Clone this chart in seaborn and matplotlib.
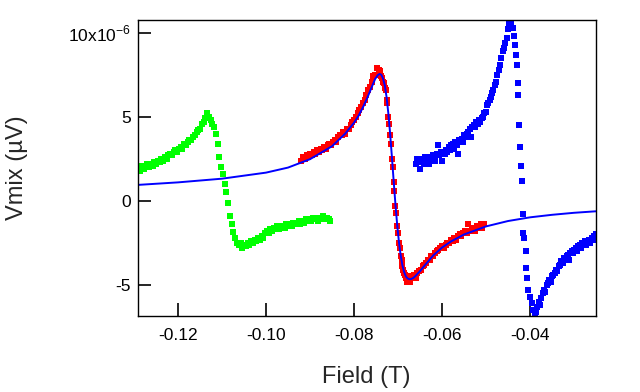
import matplotlib
matplotlib.use("Agg")
import matplotlib.pyplot as plt
import seaborn as sns
import pandas as pd

# ---------------- data (y in units of 1e-6) ----------------
green_x = [-0.1294, -0.1290, -0.1286, -0.1282, -0.1278, -0.1274, -0.1270, -0.1266, -0.1262, -0.1258,
           -0.1254, -0.1250, -0.1246, -0.1242, -0.1238, -0.1234, -0.1230, -0.1226, -0.1222, -0.1218,
           -0.1214, -0.1210, -0.1206, -0.1202, -0.1198, -0.1194, -0.1190, -0.1186, -0.1182, -0.1178,
           -0.1174, -0.1170, -0.1166, -0.1162, -0.1158, -0.1154, -0.1150, -0.1146, -0.1142, -0.1138,
           -0.1134, -0.1130, -0.1126, -0.1122, -0.1118, -0.1114, -0.1110, -0.1106, -0.1102, -0.1098,
           -0.1094, -0.1090, -0.1086, -0.1082, -0.1078, -0.1074, -0.1070, -0.1066, -0.1062, -0.1058,
           -0.1054, -0.1050, -0.1046, -0.1042, -0.1038, -0.1034, -0.1030, -0.1026, -0.1022, -0.1018,
           -0.1014, -0.1010, -0.1006, -0.1002, -0.0998, -0.0994, -0.0990, -0.0986, -0.0982, -0.0978,
           -0.0974, -0.0970, -0.0966, -0.0962, -0.0958, -0.0954, -0.0950, -0.0946, -0.0942, -0.0938,
           -0.0934, -0.0930, -0.0926, -0.0922, -0.0918, -0.0914, -0.0910, -0.0906, -0.0902, -0.0898,
           -0.0894, -0.0890, -0.0886, -0.0882, -0.0878, -0.0874, -0.0870, -0.0866, -0.0862, -0.0858,
           -0.0854]
green_y = [1.8, 2.0, 1.8, 2.1, 1.9, 2.0, 2.2, 2.0, 2.2, 2.1,
           2.3, 2.2, 2.4, 2.3, 2.5, 2.4, 2.6, 2.5, 2.7, 2.8,
           2.7, 2.9, 3.0, 2.9, 3.1, 3.2, 3.1, 3.4, 3.3, 3.5,
           3.6, 3.6, 3.8, 3.9, 4.1, 4.2, 4.3, 4.6, 4.7, 4.9,
           5.2, 5.0, 4.8, 4.6, 4.4, 4.0, 3.4, 2.6, 2.0, 1.6,
           1.0, 0.5, -0.1, -0.9, -1.35, -1.85, -2.2, -2.5, -2.6, -2.5,
           -2.8, -2.6, -2.7, -2.5, -2.6, -2.4, -2.5, -2.3, -2.4, -2.2,
           -2.3, -2.1, -2.2, -1.9, -1.8, -1.9, -1.7, -1.8, -1.6, -1.7,
           -1.5, -1.7, -1.6, -1.5, -1.6, -1.4, -1.5, -1.4, -1.5, -1.3,
           -1.4, -1.3, -1.2, -1.4, -1.2, -1.3, -1.1, -1.2, -1.1, -1.2,
           -1.0, -1.1, -1.0, -1.2, -1.0, -1.1, -0.9, -1.1, -1.0, -1.1,
           -1.2]

red_x = [-0.0920, -0.0916, -0.0912, -0.0908, -0.0904, -0.0900, -0.0896, -0.0892, -0.0888, -0.0884,
         -0.0880, -0.0876, -0.0872, -0.0868, -0.0864, -0.0860, -0.0856, -0.0852, -0.0848, -0.0844,
         -0.0840, -0.0836, -0.0832, -0.0828, -0.0824, -0.0820, -0.0816, -0.0812, -0.0808, -0.0804,
         -0.0800, -0.0796, -0.0792, -0.0788, -0.0784, -0.0780, -0.0776, -0.0772, -0.0768, -0.0764,
         -0.0760, -0.0756, -0.0752, -0.0748, -0.0744,
         -0.0740, -0.0738, -0.0736, -0.0734, -0.0732, -0.0730, -0.0728, -0.0726, -0.0724, -0.0722,
         -0.0720, -0.0718, -0.0716, -0.0714, -0.0712, -0.0710, -0.0708, -0.0706, -0.0704, -0.0702,
         -0.0700, -0.0698, -0.0696, -0.0694, -0.0692, -0.0690, -0.0688, -0.0686, -0.0684, -0.0682,
         -0.0680, -0.0676, -0.0672, -0.0668, -0.0664, -0.0660, -0.0656, -0.0652, -0.0648, -0.0644,
         -0.0640, -0.0636, -0.0632, -0.0628, -0.0624, -0.0620, -0.0616, -0.0612, -0.0608, -0.0604,
         -0.0600, -0.0596, -0.0592, -0.0588, -0.0584, -0.0580, -0.0576, -0.0572, -0.0568, -0.0564,
         -0.0560, -0.0556, -0.0552, -0.0548, -0.0544, -0.0540, -0.0536, -0.0532, -0.0528, -0.0524,
         -0.0520, -0.0516, -0.0512, -0.0508, -0.0504]
red_y = [2.4, 2.6, 2.5, 2.7, 2.6, 2.8, 2.7, 2.9, 2.8, 3.0,
         2.9, 3.1, 3.0, 3.2, 3.1, 3.3, 3.4, 3.3, 3.5, 3.6,
         3.5, 3.8, 3.9, 3.9, 4.1, 4.0, 4.3, 4.3, 4.5, 4.7,
         4.8, 5.0, 5.2, 5.4, 5.6, 5.8, 6.0, 6.3, 6.6, 6.8,
         7.1, 7.4, 7.5, 7.9, 7.8,
         7.7, 7.4, 7.3, 7.1, 7.0, 6.7, 6.6, 6.0, 5.8, 5.0,
         4.6, 3.9, 3.4, 2.5, 2.0, 1.1, 0.6, -0.3, -0.7, -1.5,
         -1.9, -2.5, -2.8, -3.3, -3.5, -3.9, -4.1, -4.3, -4.4, -4.6,
         -4.8, -4.5, -4.8, -4.6, -4.4, -4.6, -4.3, -4.2, -4.1, -3.9,
         -3.8, -3.7, -3.5, -3.5, -3.3, -3.3, -3.1, -3.0, -2.9, -2.8,
         -2.7, -2.8, -2.6, -2.5, -2.5, -2.3, -2.4, -2.2, -2.3, -2.1,
         -2.0, -2.1, -1.9, -1.8, -1.9, -1.4, -1.8, -1.7, -1.6, -1.8,
         -1.5, -1.6, -1.4, -1.6, -1.4]

blue_x = [-0.0660, -0.0657, -0.0654, -0.0651, -0.0648, -0.0645, -0.0642, -0.0639, -0.0636, -0.0633,
          -0.0630, -0.0627, -0.0624, -0.0621, -0.0618, -0.0615, -0.0612, -0.0609, -0.0606, -0.0603,
          -0.0600, -0.0597, -0.0594, -0.0591, -0.0588, -0.0585, -0.0582, -0.0579, -0.0576, -0.0573,
          -0.0570, -0.0567, -0.0564, -0.0561, -0.0558, -0.0555, -0.0552, -0.0549, -0.0546, -0.0543,
          -0.0540, -0.0537, -0.0534, -0.0531, -0.0528, -0.0525, -0.0522, -0.0519, -0.0516, -0.0513,
          -0.0510, -0.0507, -0.0504, -0.0501, -0.0498, -0.0495, -0.0492, -0.0489, -0.0486, -0.0483,
          -0.0480, -0.0477, -0.0474, -0.0471, -0.0468, -0.0465, -0.0462, -0.0459, -0.0456, -0.0453,
          -0.0450, -0.0448, -0.0446, -0.0444,
          -0.0438, -0.0436, -0.0433, -0.0432, -0.0430, -0.0428, -0.0427, -0.0425, -0.0423, -0.0421,
          -0.0418, -0.0417, -0.0415, -0.0413, -0.0410, -0.0409, -0.0406, -0.0404, -0.0400, -0.0396,
          -0.0393, -0.0389,
          -0.0386, -0.0383, -0.0380, -0.0377, -0.0374, -0.0371, -0.0368, -0.0365, -0.0362, -0.0359,
          -0.0356, -0.0353, -0.0350, -0.0347, -0.0344, -0.0341, -0.0338, -0.0335, -0.0332, -0.0329,
          -0.0326, -0.0323, -0.0320, -0.0317, -0.0314, -0.0311, -0.0308, -0.0305, -0.0302, -0.0299,
          -0.0296, -0.0293, -0.0290, -0.0287, -0.0284, -0.0281, -0.0278, -0.0275, -0.0272, -0.0269,
          -0.0266, -0.0263, -0.0260, -0.0257, -0.0254, -0.0251]
blue_y = [2.2, 2.5, 2.3, 1.9, 2.5, 2.3, 2.2, 2.6, 2.4, 2.5,
          2.2, 2.6, 2.5, 2.7, 2.5, 2.4, 2.8, 3.3, 2.7, 2.9,
          2.4, 2.9, 2.8, 3.0, 2.9, 3.2, 3.0, 3.3, 3.4, 3.1,
          3.5, 3.3, 2.8, 3.6, 3.5, 3.7, 3.5, 3.9, 3.8, 4.0,
          4.1, 4.3, 3.8, 4.4, 4.5, 4.4, 4.7, 4.6, 4.8, 4.7,
          4.9, 5.0, 5.2, 5.3, 5.7, 5.8, 6.0, 6.2, 6.4, 6.6,
          6.9, 7.1, 7.5, 7.8, 8.1, 8.5, 8.9, 9.1, 9.4, 9.7,
          10.2, 10.5, 10.75, 10.5,
          10.3, 9.8, 9.3, 8.7, 8.1, 7.0, 6.3, 4.5, 3.2, 2.1,
          1.2, -0.8, -1.9, -2.2, -3.0, -4.0, -4.6, -5.3, -5.7, -6.1,
          -6.5, -6.8,
          -6.6, -6.3, -6.0, -6.2, -5.8, -5.5, -5.3, -5.4, -5.0, -4.9,
          -4.7, -4.8, -4.5, -4.4, -4.3, -4.1, -4.2, -3.9, -3.8, -3.6,
          -3.7, -3.4, -3.5, -3.3, -3.2, -3.5, -3.1, -3.0, -3.1, -2.9,
          -2.8, -3.0, -2.7, -2.6, -2.8, -2.5, -2.6, -2.4, -2.6, -2.4,
          -2.3, -2.5, -2.2, -2.3, -2.1, -2.0]

fit_x = [-0.1291, -0.1200, -0.1100, -0.1000, -0.0950, -0.0900, -0.0850, -0.0820, -0.0800, -0.0790,
         -0.0780, -0.0770, -0.0760, -0.0752, -0.0746, -0.0742, -0.0738, -0.0734, -0.0730, -0.0726,
         -0.0722, -0.0718, -0.0714, -0.0710, -0.0706, -0.0702, -0.0698, -0.0694, -0.0690, -0.0686,
         -0.0682, -0.0678, -0.0674, -0.0670, -0.0665, -0.0660, -0.0650, -0.0640, -0.0620, -0.0600,
         -0.0580, -0.0550, -0.0500, -0.0450, -0.0400, -0.0350, -0.0300, -0.0250]
fit_y = [0.95, 1.10, 1.32, 1.68, 1.98, 2.48, 3.25, 4.00, 4.65, 5.05,
         5.55, 6.12, 6.75, 7.25, 7.48, 7.55, 7.50, 7.28, 6.86, 6.17,
         5.21, 4.02, 2.65, 1.22, -0.16, -1.40, -2.43, -3.23, -3.83, -4.24,
         -4.50, -4.62, -4.66, -4.65, -4.58, -4.46, -4.18, -3.86, -3.25, -2.78,
         -2.42, -2.00, -1.52, -1.20, -0.98, -0.83, -0.71, -0.62]

x_ticks = [-0.12, -0.10, -0.08, -0.06, -0.04]
x_tick_labels = ["-0.12", "-0.10", "-0.08", "-0.06", "-0.04"]
y_ticks = [-5, 0, 5, 10]
y_tick_labels = ["-5", "0", "5", r"10x10$^{\mathregular{-6}}$"]

# ---------------- style ----------------
sns.set_style("white")
plt.rcParams["font.family"] = ["Liberation Sans", "DejaVu Sans"]
plt.rcParams["axes.unicode_minus"] = False

fig = plt.figure(figsize=(6.4, 3.92), dpi=100)
ax = fig.add_axes([138 / 640, 1 - 316 / 392, (596 - 138) / 640, (316 - 20) / 392])

df_g = pd.DataFrame({"x": green_x, "y": green_y})
df_r = pd.DataFrame({"x": red_x, "y": red_y})
df_b = pd.DataFrame({"x": blue_x, "y": blue_y})

mk = dict(marker="s", s=14, linewidth=0, legend=False, ax=ax)
sns.scatterplot(data=df_g, x="x", y="y", color="#00FF00", **mk)
sns.scatterplot(data=df_b, x="x", y="y", color="#0000FF", **mk)
sns.scatterplot(data=df_r, x="x", y="y", color="#FF0000", **mk)
sns.lineplot(x=fit_x, y=fit_y, color="#0000FF", linewidth=1.4, ax=ax, sort=True)

ax.set_xlim(-0.1291, -0.0250)
ax.set_ylim(-6.85, 10.76)
ax.set_xticks(x_ticks)
ax.set_xticklabels(x_tick_labels)
ax.set_yticks(y_ticks)
ax.set_yticklabels(y_tick_labels)

for sp in ax.spines.values():
    sp.set_visible(True)
    sp.set_color("black")
    sp.set_linewidth(1.0)

ax.tick_params(axis="both", direction="in", length=9.5, width=1.2, colors="black",
               labelsize=12.5, bottom=True, left=True, top=False, right=False)
ax.tick_params(axis="x", pad=9)
ax.tick_params(axis="y", pad=5)

ax.set_xlabel("Field (T)", fontsize=17)
ax.set_ylabel("Vmix (µV)", fontsize=17)
ax.xaxis.set_label_coords((366 - 138) / 458, (316 - 366) / 296)
ax.yaxis.set_label_coords((28 - 138) / 458, 0.5)

fig.savefig("out.png", dpi=100)
